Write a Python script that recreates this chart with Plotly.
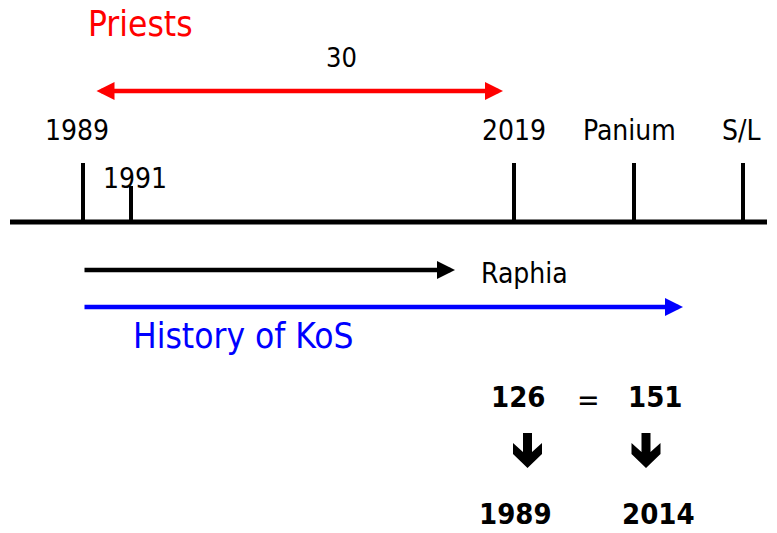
import plotly.graph_objects as go

# ---- data (schematic timeline, positions in drawing units) ----
tick_labels = ["1989", "1991", "2019", "Panium", "S/L"]
tick_pos = [83, 131, 514, 634, 743]
tick_top = [163, 186, 163, 163, 163]
label_pos = [77, 135, 514, 629, 741]
label_y = [130, 178, 130, 130, 130]

span_start, span_end, span_value = 95, 503, "30"
span_label_x = 341
raphia_end = 455
kos_end = 683
timeline_start = 83

eq_left_value, eq_right_value = "126", "151"
eq_left_year, eq_right_year = "1989", "2014"
eq_x = [518, 655]
arrow_x = [527.5, 646]

FONT = "DejaVu Sans Condensed, Liberation Sans Narrow, Arial Narrow, sans-serif"

fig = go.Figure()
shapes = []
annotations = []

# main timeline
shapes.append(dict(type="line", x0=10, x1=767, y0=222, y1=222,
                   line=dict(color="black", width=5), layer="above"))
for tx, tt in zip(tick_pos, tick_top):
    shapes.append(dict(type="line", x0=tx, x1=tx, y0=tt, y1=222,
                       line=dict(color="black", width=4), layer="above"))
for lab, lx, ly in zip(tick_labels, label_pos, label_y):
    annotations.append(dict(x=lx, y=ly, text=lab, showarrow=False,
                            font=dict(family=FONT, size=28, color="black"),
                            xanchor="center", yanchor="middle"))

# Priests span
annotations.append(dict(x=86, y=24, text="Priests", showarrow=False, xanchor="left",
                        yanchor="middle", font=dict(family=FONT, size=35, color="#ff0000")))
annotations.append(dict(x=span_label_x, y=57, text=span_value, showarrow=False,
                        font=dict(family=FONT, size=27, color="black"), yanchor="middle"))
annotations.append(dict(x=span_end, y=91, ax=span_start, ay=91, axref="x", ayref="y",
                        xref="x", yref="y", text="", showarrow=True, arrowhead=2,
                        startarrowhead=2, arrowside="end+start", arrowsize=0.8,
                        startarrowsize=0.8, arrowwidth=4.5, arrowcolor="#ff0000",
                        standoff=0, startstandoff=0))

# Raphia arrow
annotations.append(dict(x=raphia_end, y=270, ax=timeline_start, ay=270, axref="x", ayref="y",
                        text="", showarrow=True, arrowhead=2, arrowsize=0.8, arrowwidth=4.5,
                        arrowcolor="black", standoff=0))
annotations.append(dict(x=479, y=273, text="Raphia", showarrow=False, xanchor="left",
                        yanchor="middle", font=dict(family=FONT, size=28, color="black")))

# History of KoS arrow
annotations.append(dict(x=kos_end, y=307, ax=timeline_start, ay=307, axref="x", ayref="y",
                        text="", showarrow=True, arrowhead=2, arrowsize=0.8, arrowwidth=4.5,
                        arrowcolor="#0000ff", standoff=0))
annotations.append(dict(x=131, y=336, text="History of KoS", showarrow=False, xanchor="left",
                        yanchor="middle", font=dict(family=FONT, size=35, color="#0000ff")))

# equation block
bold = dict(family=FONT, size=29, color="black", weight="bold")
annotations.append(dict(x=eq_x[0], y=397, text="<b>%s</b>" % eq_left_value, showarrow=False, font=bold))
annotations.append(dict(x=eq_x[1], y=397, text="<b>%s</b>" % eq_right_value, showarrow=False, font=bold))
annotations.append(dict(x=588, y=399, text="=", showarrow=False,
                        font=dict(family=FONT, size=30, color="black")))
annotations.append(dict(x=eq_x[0] - 3, y=514, text="<b>%s</b>" % eq_left_year, showarrow=False, font=bold))
annotations.append(dict(x=eq_x[1] + 3, y=514, text="<b>%s</b>" % eq_right_year, showarrow=False, font=bold))

# block down arrows
glyph = [(-4.5, 433), (4.5, 433), (4.5, 452), (14.5, 443), (14.5, 454), (0, 468),
         (-14.5, 454), (-14.5, 443), (-4.5, 452)]
for ax_ in arrow_x:
    path = "M " + " L ".join("%g,%g" % (ax_ + dx, yy) for dx, yy in glyph) + " Z"
    shapes.append(dict(type="path", path=path, fillcolor="black",
                       line=dict(color="black", width=0), layer="above"))

fig.update_layout(
    width=777, height=533,
    margin=dict(l=0, r=0, t=0, b=0),
    paper_bgcolor="white", plot_bgcolor="white",
    xaxis=dict(range=[0, 777], visible=False, fixedrange=True),
    yaxis=dict(range=[533, 0], visible=False, fixedrange=True),
    shapes=shapes, annotations=annotations, showlegend=False,
)
fig.write_html("out.html", config={"displayModeBar": False},
               post_script="document.body.style.margin='0';document.body.style.overflow='hidden';")
